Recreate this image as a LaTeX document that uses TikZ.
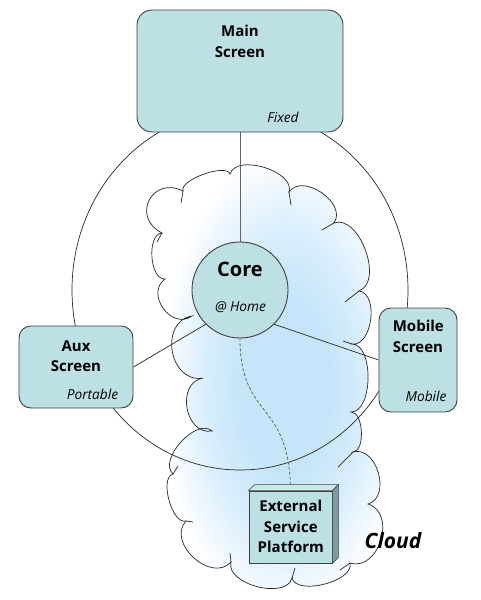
\documentclass[tikz,border=0pt]{standalone}
\usepackage{fontspec}
\setmainfont{Open Sans}
\usetikzlibrary{calc}
\pgfdeclarelayer{bg}
\pgfsetlayers{bg,main}
\definecolor{boxfill}{RGB}{188,224,228}
\definecolor{boxline}{RGB}{64,64,64}
\definecolor{sideface}{RGB}{125,155,160}
\definecolor{topface}{RGB}{205,232,235}
\definecolor{skyblue}{RGB}{198,229,250}
\definecolor{skymid}{RGB}{216,238,252}
\definecolor{skypale}{RGB}{238,247,254}
\definecolor{linegray}{RGB}{40,40,40}
\definecolor{stemgray}{RGB}{100,100,100}
\pgfdeclareradialshading{glow}{\pgfpoint{0bp}{0bp}}{color(0bp)=(skyblue); color(9bp)=(skyblue); color(16bp)=(skymid); color(21bp)=(skypale); color(25bp)=(white); color(50bp)=(white)}
\def\cloudpath{(183,191) to[bend left=90,looseness=0.6] (230,174)
 to[bend left=90,looseness=0.9] (289,192)
 to[bend left=90,looseness=1.12] (334,223)
 to[bend left=90,looseness=0.95] (359,291)
 to[bend left=90,looseness=0.98] (352,344)
 to[bend left=90,looseness=0.83] (351,412)
 to[bend left=90,looseness=0.8] (353,452)
 to[bend left=90,looseness=1.17] (368,504)
 to[bend left=90,looseness=1.26] (350,563)
 to[bend left=90,looseness=0.8] (292,578)
 to[bend left=90,looseness=0.93] (231,562)
 to[bend left=90,looseness=1.23] (186,521)
 to[bend left=90,looseness=0.76] (173,474)
 to[bend left=90,looseness=0.92] (212,431)
 to[bend left=90,looseness=1.32] (203,378)
 to[bend left=90,looseness=1.39] (192,316)
 to[bend left=90,looseness=1.4] (165,279)
 to[bend left=90,looseness=0.86] (162,233)
 to[bend left=90,looseness=1.9] (183,191) -- cycle}
\begin{document}
\begin{tikzpicture}[x=1pt,y=-1pt,
  screen/.style={draw=boxline, fill=boxfill, line width=0.9pt, rounded corners=12pt, inner sep=0pt},
  title/.style={font=\bfseries\fontsize{15}{18}\selectfont, anchor=base, inner sep=0pt},
  tag/.style={font=\itshape\fontsize{13.7}{16}\selectfont, anchor=base, inner sep=0pt},
  wire/.style={draw=linegray, line width=0.7pt},
  dashwire/.style={draw=stemgray, line width=0.8pt, dash pattern=on 3pt off 2pt}]
\useasboundingbox (0,0) rectangle (480,600);
% boxes
\node[screen, minimum width=206pt, minimum height=122pt, rounded corners=15pt] (main) at (240,71) {};
\node[screen, minimum width=114pt, minimum height=82pt] (aux) at (76,367) {};
\node[screen, minimum width=78pt, minimum height=104pt] (mobile) at (418,360) {};
\node[circle, draw=boxline, fill=boxfill, line width=0.9pt, minimum size=96pt, inner sep=0pt] (core) at (240,290) {};
\node[draw=boxline, fill=boxfill, line width=0.8pt, minimum width=83pt, minimum height=72pt, inner sep=0pt] (ext) at (290.5,527) {};
\filldraw[fill=topface, draw=boxline, line width=0.6pt] (ext.north west) -- ++(6,-6) -- ($(ext.north east)+(6,-6)$) -- (ext.north east) -- cycle;
\filldraw[fill=sideface, draw=boxline, line width=0.6pt] (ext.north east) -- ++(6,-6) -- ($(ext.south east)+(6,-6)$) -- (ext.south east) -- cycle;
% texts
\node[title] (mainA) at (240,36.7) {Main};
\node[title] (mainB) at (240,57.3) {Screen};
\node[tag] (mainT) at (283,122.7) {Fixed};
\node[title, font=\bfseries\fontsize{20}{24}\selectfont] (coreA) at (240,276) {Core};
\node[tag] (coreT) at (240.5,311) {@ Home};
\node[title] (auxA) at (76,351.7) {Aux};
\node[title] (auxB) at (76,371.7) {Screen};
\node[tag] (auxT) at (92.5,399.3) {Portable};
\node[title] (mobA) at (418.3,331.7) {Mobile};
\node[title] (mobB) at (418,352.7) {Screen};
\node[tag] (mobT) at (426,401) {Mobile};
\node[title] (extA) at (290.8,511.7) {External};
\node[title] (extB) at (290.8,532.7) {Service};
\node[title] (extC) at (290.8,552.7) {Platform};
\node[font=\bfseries\itshape\fontsize{21}{24}\selectfont, anchor=base, inner sep=0pt] (cloudT) at (393,548) {Cloud};
% background: cloud, ring, connectors
\begin{pgfonlayer}{bg}
\begin{scope}
  \clip \cloudpath;
  \fill[white] (100,150) rectangle (420,600);
  \shade[shading=glow] (285,385) ellipse [x radius=125pt, y radius=235pt];
\end{scope}
\draw[wire] \cloudpath;
\draw[wire] (289,192) -- (291,205);
\draw[wire] (334,223) -- (322,230);
\draw[wire] (359,291) -- (345,302);
\draw[wire] (352,344) -- (343,341);
\draw[wire] (353,452) -- (338,467);
\draw[wire] (350,563) -- (340,570);
\draw[wire] (292,578) -- (295,568);
\draw[wire] (231,562) -- (230,553);
\draw[wire] (186,521) -- (193,522);
\draw[wire] (173,474) -- (178,466);
\draw[wire] (162,233) -- (157,242);
\draw[wire] (183,191) -- (181,203);
\draw[wire] (240,290) ellipse [x radius=168pt, y radius=180pt];
\draw[draw=stemgray, line width=1pt] (main.south) -- (core.north);
\draw[wire] (aux.east) -- (core.225);
\draw[wire] (core.315) -- (mobile.west);
\draw[dashwire] (core.south) .. controls (240,420) and (290,400) .. (ext.north);
\end{pgfonlayer}
\end{tikzpicture}
\end{document}
